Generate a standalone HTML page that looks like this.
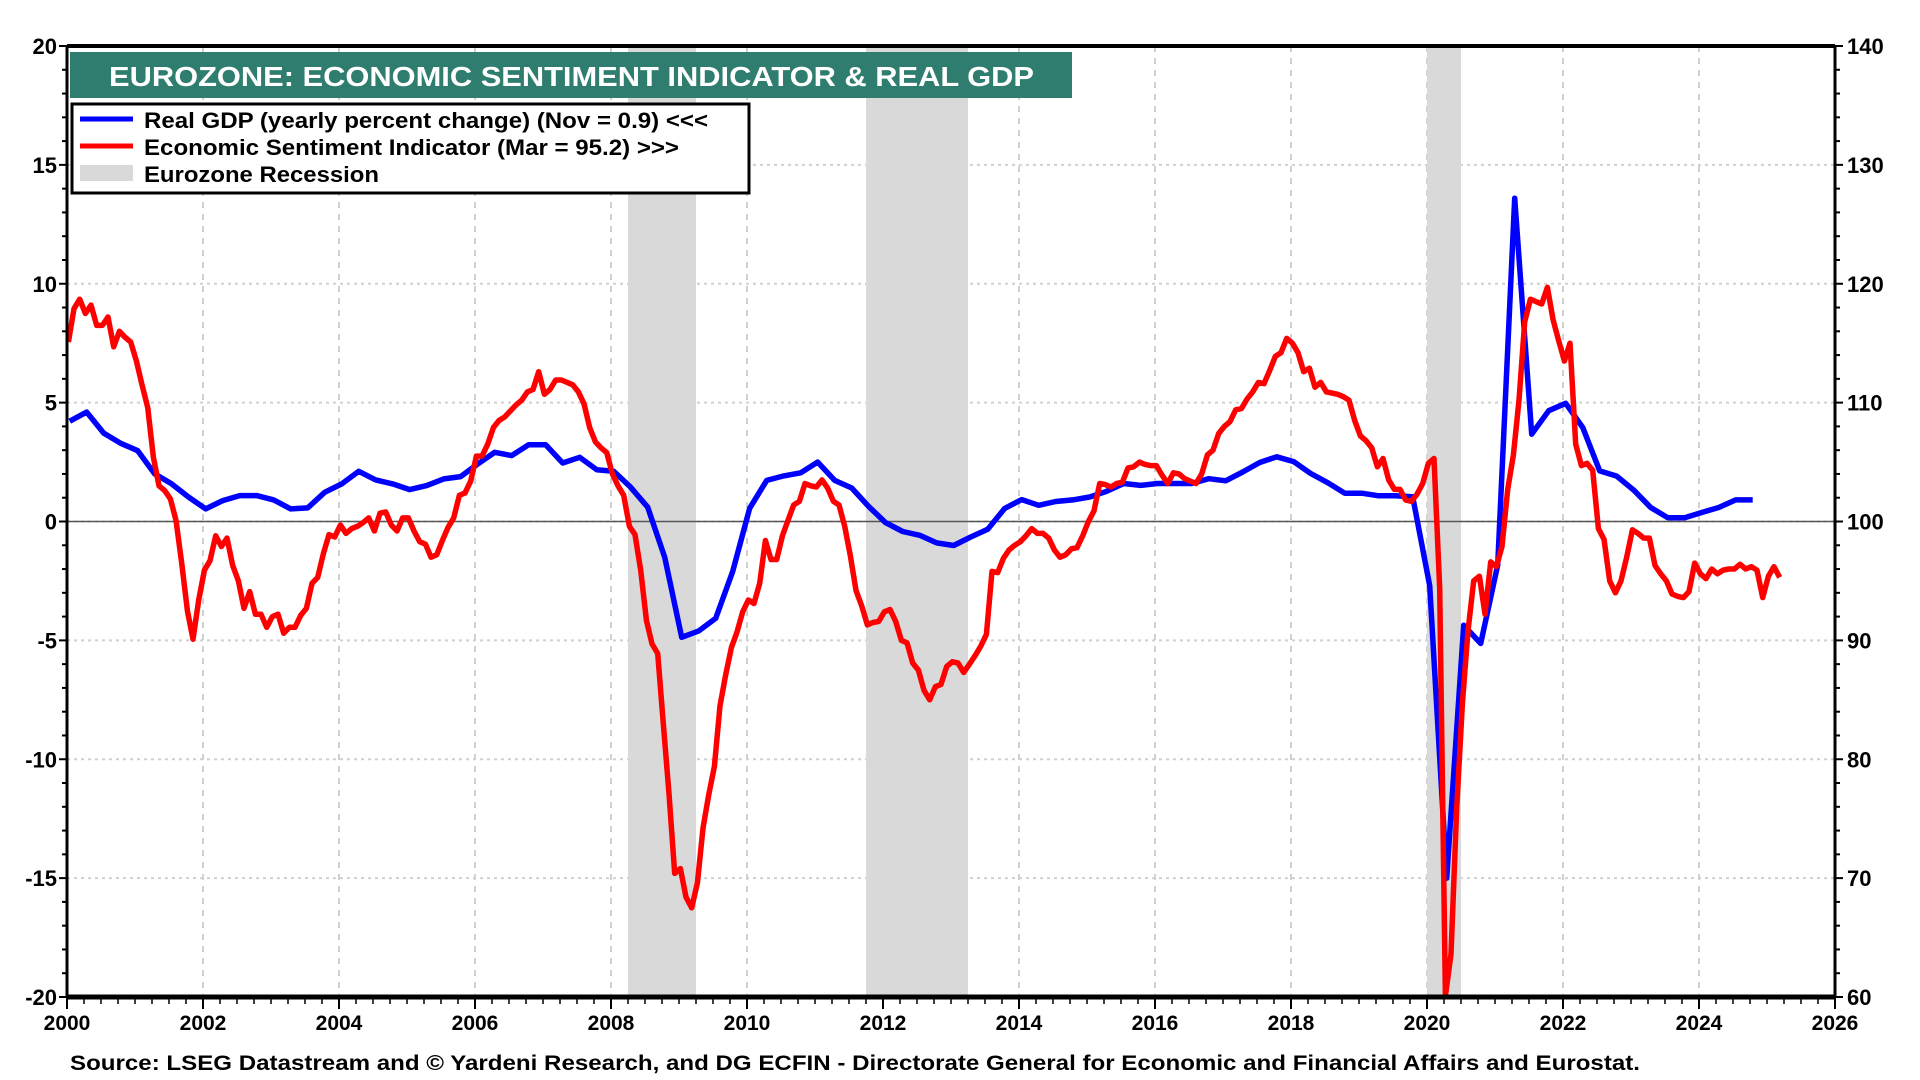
<!DOCTYPE html>
<html><head><meta charset="utf-8"><style>
html,body{margin:0;padding:0;background:#fff;width:1920px;height:1080px;overflow:hidden}
svg{display:block}
text{font-family:"Liberation Sans Narrow","Liberation Sans",sans-serif;font-weight:bold}
</style></head><body>
<svg id="chart" width="1920" height="1080" xmlns="http://www.w3.org/2000/svg">
<g id="grid"></g>
<g id="bands"></g>
<g id="series"></g>
<g id="axes"></g>
<rect x="70" y="52" width="1002" height="46" fill="#2e7d6e"/>
<text x="109" y="86" fill="#fff" font-size="28" textLength="925" lengthAdjust="spacingAndGlyphs" font-family="Liberation Sans">EUROZONE: ECONOMIC SENTIMENT INDICATOR &amp; REAL GDP</text>
<g>
<rect x="72" y="104" width="677" height="89" fill="#fff" stroke="#000" stroke-width="3"/>
<line x1="80" y1="119" x2="133" y2="119" stroke="#0000ff" stroke-width="5"/>
<text x="144" y="128" font-size="22" textLength="564" lengthAdjust="spacingAndGlyphs" font-family="Liberation Sans">Real GDP (yearly percent change) (Nov = 0.9) &lt;&lt;&lt;</text>
<line x1="80" y1="146" x2="133" y2="146" stroke="#ff0000" stroke-width="5"/>
<text x="144" y="155" font-size="22" textLength="535" lengthAdjust="spacingAndGlyphs" font-family="Liberation Sans">Economic Sentiment Indicator (Mar = 95.2) &gt;&gt;&gt;</text>
<rect x="80" y="165" width="53" height="16" fill="#d9d9d9"/>
<text x="144" y="182" font-size="22" textLength="235" lengthAdjust="spacingAndGlyphs" font-family="Liberation Sans">Eurozone Recession</text>
</g>
<text x="70" y="1070" font-size="21" textLength="1570" lengthAdjust="spacingAndGlyphs" font-family="Liberation Sans">Source: LSEG Datastream and © Yardeni Research, and DG ECFIN - Directorate General for Economic and Financial Affairs and Eurostat.</text>
</svg>
<script>
const gdpValues=[4.22,4.6,3.72,3.29, 2.98,2.0,1.58,1.02, 0.53,0.88,1.09,1.09, 0.91,0.53,0.57,1.23, 1.58,2.11,1.75,1.58, 1.34,1.51,1.79,1.89, 2.42,2.91,2.77,3.23, 3.23,2.46,2.70,2.18, 2.11,1.44,0.60,-1.5,
-4.87,-4.6,-4.07,-2.1, 0.56,1.73,1.92,2.05, 2.5,1.73,1.41,0.63, -0.05,-0.42,-0.58,-0.9, -1.01,-0.65,-0.33,0.55, 0.92,0.68,0.84,0.91, 1.03,1.27,1.6,1.52, 1.6,1.6,1.6,1.8, 1.71,2.08,2.48,2.72,
2.52,2.02,1.63,1.19, 1.19,1.08,1.08,1.04, -2.7,-15.0,-4.36,-5.13, -1.83,13.6,3.67,4.66, 4.97,3.96,2.13,1.91, 1.32,0.59,0.16,0.16, 0.38,0.59,0.91,0.91];
const gdpStartYear=2000;
const esiValues=[
115.1,117.9,118.7,117.5,118.2,116.5,116.5,117.2,114.7,116.0,115.5,115.1,
113.5,111.5,109.6,105.4,103.0,102.6,101.9,100.1,96.5,92.5,90.1,93.4,
95.9,96.7,98.8,97.9,98.6,96.3,95.0,92.7,94.1,92.2,92.2,91.1,
92.0,92.2,90.6,91.1,91.1,92.1,92.7,94.8,95.3,97.3,98.9,98.7,
99.7,99.0,99.4,99.6,99.9,100.3,99.2,100.7,100.8,99.7,99.2,100.3,
100.3,99.2,98.3,98.1,97.0,97.2,98.4,99.5,100.3,102.2,102.4,103.4,
105.5,105.5,106.5,107.9,108.5,108.8,109.3,109.8,110.2,110.9,111.1,112.6,
110.7,111.1,111.9,111.9,111.7,111.5,110.9,109.9,107.9,106.7,106.2,105.8,
104.0,103.0,102.2,99.6,98.9,95.9,91.7,89.7,88.9,82.9,77.1,70.4,
70.8,68.4,67.5,69.6,74.2,77.0,79.4,84.5,87.1,89.4,90.7,92.4,
93.4,93.1,94.8,98.4,96.8,96.8,98.8,100.1,101.4,101.7,103.2,103.0,
102.9,103.5,102.8,101.7,101.4,99.6,97.1,94.2,92.9,91.3,91.5,91.6,
92.4,92.6,91.6,90.0,89.8,88.1,87.5,85.8,85.0,86.1,86.3,87.8,
88.2,88.1,87.3,88.0,88.7,89.5,90.5,95.8,95.7,96.9,97.6,98.0,
98.3,98.8,99.4,99.0,99.0,98.6,97.6,97.0,97.2,97.7,97.8,98.8,
100.0,100.9,103.2,103.1,102.9,103.2,103.3,104.5,104.6,105.0,104.8,104.7,
104.7,103.9,103.2,104.1,104.0,103.6,103.4,103.2,104.0,105.6,106.0,107.4,
108.0,108.4,109.4,109.5,110.3,110.9,111.7,111.6,112.7,113.9,114.2,115.4,
115.0,114.2,112.6,112.9,111.3,111.7,110.9,110.8,110.7,110.5,110.2,108.5,
107.2,106.8,106.2,104.6,105.3,103.5,102.7,102.7,101.8,101.7,102.3,103.2,
104.9,105.3,94.4,60.1,63.6,75.9,84.7,90.8,95.0,95.4,92.2,96.6,
96.2,97.9,102.7,105.6,110.2,116.8,118.7,118.5,118.3,119.7,117.0,115.2,
113.5,115.0,106.5,104.7,104.9,104.3,99.4,98.5,95.0,94.0,95.0,97.0,
99.3,99.0,98.6,98.6,96.3,95.6,95.0,93.9,93.7,93.6,94.1,96.5,
95.6,95.2,96.0,95.6,95.9,96.0,96.0,96.4,96.0,96.2,95.9,93.6,
95.4,96.2,95.3];
const esiStartYear=2000;
const recessionStarts=[2008.25,2011.75,2020.0];
const recessionEnds=[2009.25,2013.25,2020.5];
const leftTicks=[20,15,10,5,0,-5,-10,-15,-20];
const rightTicks=[140,130,120,110,100,90,80,70,60];
const yearTicks=[2000,2002,2004,2006,2008,2010,2012,2014,2016,2018,2020,2022,2024,2026];

const X0=67,X1=1835,Y0=46,Y1=997;
const xs=t=>X0+(t-2000)/26*(X1-X0);
const yL=v=>Y1-(v+20)/40*(Y1-Y0);
const yR=v=>Y1-(v-60)/80*(Y1-Y0);
const NS='http://www.w3.org/2000/svg';
function mk(parent,tag,attrs){const e=document.createElementNS(NS,tag);for(const k in attrs)e.setAttribute(k,attrs[k]);document.getElementById(parent).appendChild(e);return e;}

yearTicks.forEach(y=>{const e=mk('grid','line',{x1:xs(y),x2:xs(y),y1:Y0,y2:Y1,stroke:'#d0d0d0','stroke-width':2,'stroke-dasharray':'6,6'});

});
leftTicks.forEach(v=>{const e=mk('grid','line',{x1:X0,x2:X1,y1:yL(v),y2:yL(v),stroke:'#d0d0d0','stroke-width':2,'stroke-dasharray':'3,4'});

});
recessionStarts.forEach((s,i)=>{const e=mk('bands','rect',{x:xs(s),y:Y0,width:xs(recessionEnds[i])-xs(s),height:Y1-Y0,fill:'#d9d9d9'});

});
{const e=mk('series','line',{x1:X0,x2:X1,y1:yL(0),y2:yL(0),stroke:'#555','stroke-width':1.5});

}
const gdpPts=gdpValues.map((v,i)=>xs(gdpStartYear+i/4+0.04).toFixed(1)+','+yL(v).toFixed(1)).join(' ');
const esiPts=esiValues.map((v,i)=>xs(esiStartYear+i/12+0.02).toFixed(1)+','+yR(v).toFixed(1)).join(' ');
{const e=mk('series','polyline',{points:gdpPts,fill:'none',stroke:'#0000ff','stroke-width':5.5,'stroke-linejoin':'round'});

}
{const e=mk('series','polyline',{points:esiPts,fill:'none',stroke:'#ff0000','stroke-width':5.5,'stroke-linejoin':'round'});

}
[[X0,Y0,X1,Y0,4],[X0,Y1,X1,Y1,5],[X0,Y0,X0,Y1,3],[X1,Y0,X1,Y1,3]].forEach(a=>{const e=mk('axes','line',{x1:a[0],y1:a[1],x2:a[2],y2:a[3],stroke:'#000','stroke-width':a[4]});

});
for(let v=-20;v<=20;v++){const major=v%5===0;mk('axes','line',{x1:X0-(major?8:5),x2:X0,y1:yL(v),y2:yL(v),stroke:'#000','stroke-width':2});
mk('axes','line',{x1:X1,x2:X1+(major?8:5),y1:yL(v),y2:yL(v),stroke:'#000','stroke-width':2});}
for(let t=2000;t<=2026;t+=0.25){const major=Math.abs(t/2-Math.round(t/2))<1e-6;mk('axes','line',{x1:xs(t),x2:xs(t),y1:Y1,y2:Y1+(major?12:7),stroke:'#000','stroke-width':major?2:1.5});}
leftTicks.forEach(v=>{const e=mk('axes','text',{x:X0-10,y:yL(v)+8,'text-anchor':'end','font-size':22,'font-family':'Liberation Sans'});e.textContent=v;

});
rightTicks.forEach(v=>{const e=mk('axes','text',{x:X1+12,y:yR(v)+8,'text-anchor':'start','font-size':22,'font-family':'Liberation Sans'});e.textContent=v;

});
yearTicks.forEach(y=>{const e=mk('axes','text',{x:xs(y),y:1030,'text-anchor':'middle','font-size':21,'font-family':'Liberation Sans'});e.textContent=y;

});
</script>
</body></html>
